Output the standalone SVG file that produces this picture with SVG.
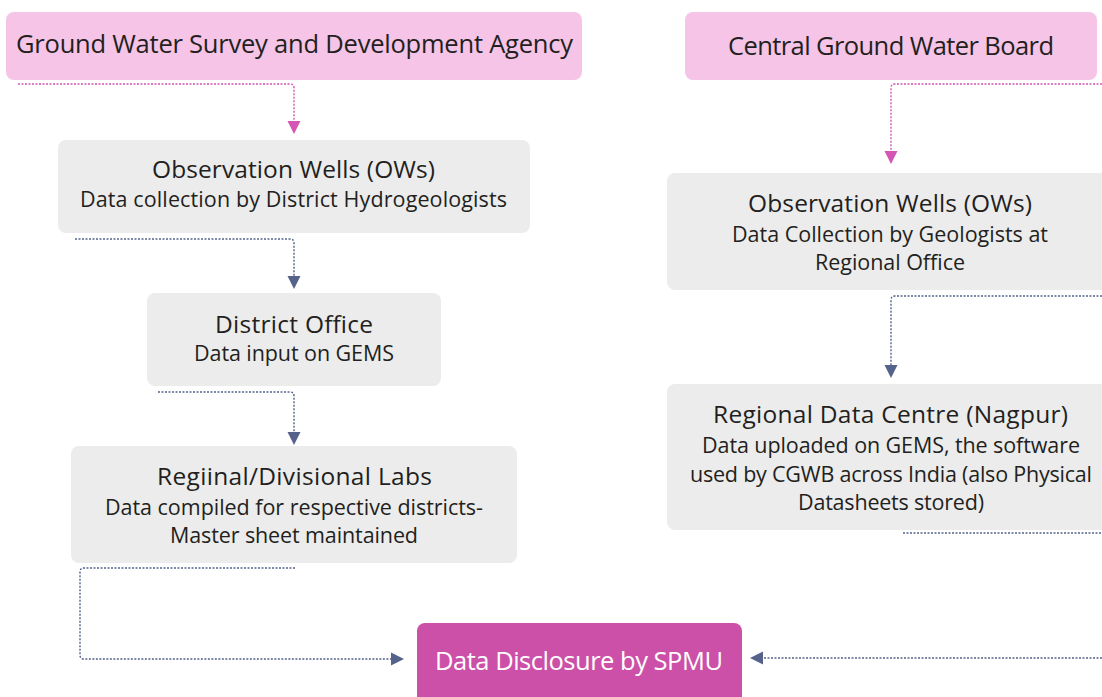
<svg xmlns="http://www.w3.org/2000/svg" width="1102" height="697" viewBox="0 0 1102 697">
<style>
.top{fill:#f5c4e6}
.box{fill:#ececec}
.spmu{fill:#cc50a8}
text{font-family:"Open Sans","Noto Sans","DejaVu Sans",sans-serif;fill:#231f20;text-anchor:middle}
.t{font-size:24.5px}
.h{font-size:25.5px}
.s{font-size:21.5px}
.w{fill:#ffffff}
.cp{fill:none;stroke:#d456b4;stroke-width:1.4;stroke-dasharray:2 1.5}
.cb{fill:none;stroke:#55638b;stroke-width:1.4;stroke-dasharray:2 1.5}
.ap{fill:#d456b4}
.ab{fill:#55638b}
</style>
<rect width="1102" height="697" fill="#ffffff"/>
<g id="gwsda">
<rect class="top" x="6" y="12" width="576" height="68" rx="8"/>
<text class="h" x="294.5" y="53" textLength="557">Ground Water Survey and Development Agency</text>
</g>
<g id="cgwb">
<rect class="top" x="685" y="12" width="412" height="68" rx="8"/>
<text class="h" x="891" y="55" textLength="326">Central Ground Water Board</text>
</g>
<g id="ow-left">
<rect class="box" x="58" y="140" width="472" height="93" rx="8"/>
<text class="t" x="293.5" y="178" textLength="283">Observation Wells (OWs)</text>
<text class="s" x="293.5" y="207" textLength="427">Data collection by District Hydrogeologists</text>
</g>
<g id="district">
<rect class="box" x="147" y="293" width="294" height="93" rx="8"/>
<text class="t" x="294" y="333" textLength="158">District Office</text>
<text class="s" x="294" y="361" textLength="200">Data input on GEMS</text>
</g>
<g id="labs">
<rect class="box" x="71" y="446" width="446" height="117" rx="8"/>
<text class="t" x="294.5" y="485" textLength="275">Regiinal/Divisional Labs</text>
<text class="s" x="294" y="515" textLength="378">Data compiled for respective districts-</text>
<text class="s" x="294" y="543" textLength="248">Master sheet maintained</text>
</g>
<g id="ow-right">
<rect class="box" x="667" y="173" width="445" height="117" rx="8"/>
<text class="t" x="890" y="212" textLength="284">Observation Wells (OWs)</text>
<text class="s" x="890" y="242" textLength="316">Data Collection by Geologists at</text>
<text class="s" x="890" y="270" textLength="150">Regional Office</text>
</g>
<g id="rdc">
<rect class="box" x="667" y="384" width="445" height="146" rx="8"/>
<text class="t" x="890.5" y="423" textLength="355">Regional Data Centre (Nagpur)</text>
<text class="s" x="891" y="453" textLength="378">Data uploaded on GEMS, the software</text>
<text class="s" x="891" y="482" textLength="402">used by CGWB across India (also Physical</text>
<text class="s" x="891" y="510" textLength="186">Datasheets stored)</text>
</g>
<g id="spmu">
<rect class="spmu" x="417" y="623" width="325" height="84" rx="8"/>
<text class="h w" x="579" y="670" textLength="288">Data Disclosure by SPMU</text>
</g>
<g id="connectors">
<path class="cp" d="M18,84 H290 Q294,84 294,88 V123"/>
<path class="ap" d="M287.5,121 L300.5,121 L294,134 Z"/>
<path class="cp" d="M1102,84 H895 Q891,84 891,88 V153"/>
<path class="ap" d="M884.5,151 L897.5,151 L891,164 Z"/>
<path class="cb" d="M75,239 H290 Q294,239 294,243 V278"/>
<path class="ab" d="M287.5,276 L300.5,276 L294,289 Z"/>
<path class="cb" d="M158,392 H290 Q294,392 294,396 V434"/>
<path class="ab" d="M287.5,432 L300.5,432 L294,445 Z"/>
<path class="cb" d="M295,568 H84 Q80,568 80,572 V655 Q80,659 84,659 H393"/>
<path class="ab" d="M391,652.5 L404,659 L391,665.5 Z"/>
<path class="cb" d="M1102,296 H895 Q891,296 891,300 V367"/>
<path class="ab" d="M884.5,365 L897.5,365 L891,378 Z"/>
<path class="cb" d="M903,533 H1102"/>
<path class="cb" d="M1102,658 H761"/>
<path class="ab" d="M763,651.5 L750,658 L763,664.5 Z"/>
</g>
</svg>
